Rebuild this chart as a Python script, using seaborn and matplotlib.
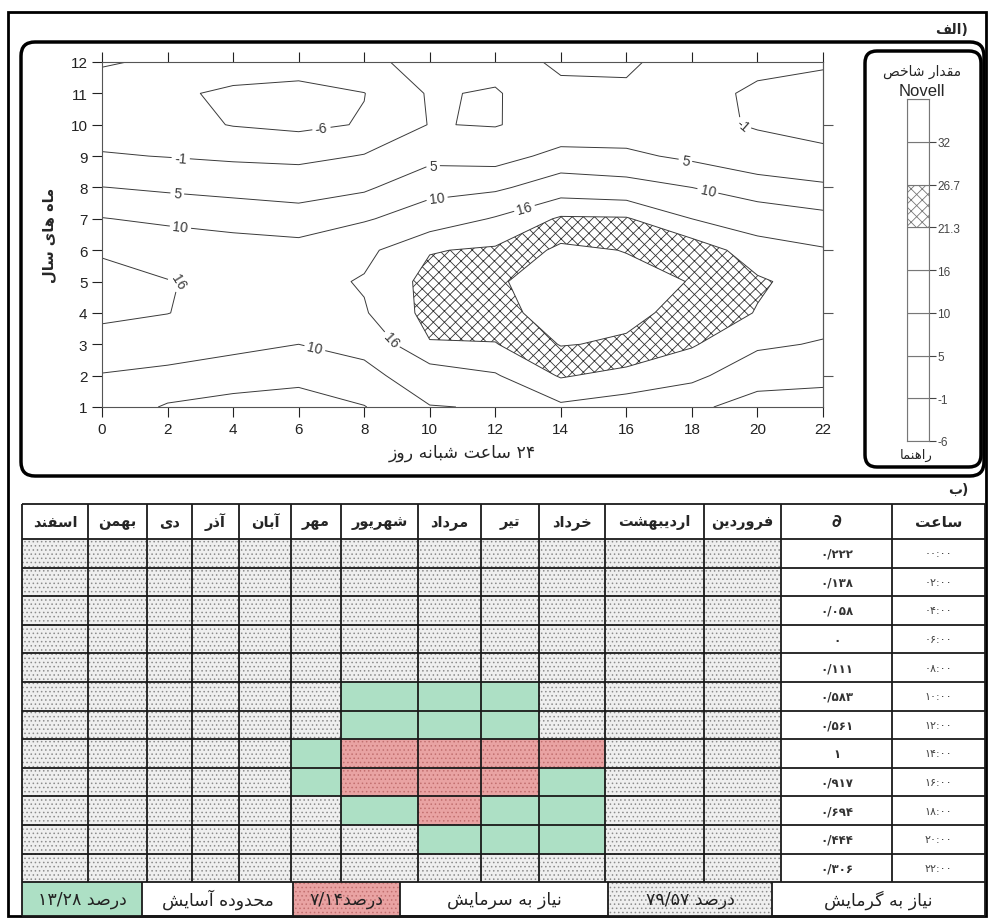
import re
import numpy as np
import matplotlib
matplotlib.use('Agg')
import matplotlib.pyplot as plt
from matplotlib.patches import FancyBboxPatch, Rectangle
import seaborn as sns

# ---------------- data ----------------
hours = [0, 2, 4, 6, 8, 10, 12, 14, 16, 18, 20, 22]
months = [1, 2, 3, 4, 5, 6, 7, 8, 9, 10, 11, 12]

# Novell index, one list per hour (months 1..12)
novell_h00 = [8.0, 9.6, 14.5, 16.8, 17.5, 15.5, 10.2, 5.1, -0.5, -4.0, -4.5, -6.3]
novell_h02 = [4.5, 8.5, 13.0, 16.1, 16.2, 13.5, 9.0, 4.2, -1.2, -4.5, -5.5, -5.5]
novell_h04 = [3.5, 7.0, 11.5, 14.0, 15.0, 12.5, 8.0, 3.5, -2.0, -6.2, -6.5, -4.5]
novell_h06 = [2.5, 6.5, 10.0, 13.0, 14.0, 12.0, 7.0, 3.0, -2.5, -7.0, -7.0, -4.5]
novell_h08 = [4.8, 8.5, 11.5, 15.5, 16.5, 14.5, 9.5, 4.2, -0.7, -5.7, -6.1, -2.0]
novell_h10 = [9.8, 13.0, 21.0, 23.0, 23.0, 21.0, 12.5, 8.5, 3.5, -0.8, -0.5, 0.5]
novell_h12 = [10.3, 15.5, 21.0, 25.0, 26.0, 22.0, 16.5, 9.0, 3.0, -1.3, -1.5, 1.0]
novell_h14 = [15.0, 21.8, 27.0, 29.0, 29.5, 28.0, 22.0, 13.0, 6.5, 1.5, 3.0, 6.5]
novell_h16 = [13.5, 19.5, 26.0, 28.0, 28.5, 26.5, 21.8, 12.0, 6.0, 2.0, 4.0, 6.0]
novell_h18 = [11.0, 17.5, 21.8, 25.0, 26.5, 24.5, 16.0, 10.0, 4.0, 0.5, 1.0, 2.0]
novell_h20 = [8.0, 12.0, 17.0, 21.0, 22.0, 18.5, 13.0, 7.5, 1.5, -1.5, -2.0, 0.5]
novell_h22 = [7.5, 11.5, 15.5, 18.5, 19.0, 16.5, 11.5, 6.0, 0.0, -2.5, -2.5, -0.5]

levels = [-6, -1, 5, 10, 16, 21.3, 26.7, 32]
label_levels = [-6, -1, 5, 10, 16]

month_names = ['فروردین', 'اردیبهشت', 'خرداد', 'تیر', 'مرداد', 'شهریور',
               'مهر', 'آبان', 'آذر', 'دی', 'بهمن', 'اسفند']
delta = [0.222, 0.138, 0.058, 0, 0.111, 0.583, 0.561, 1, 0.917, 0.694, 0.444, 0.306]

# 0 = heating need, 1 = comfort, 2 = cooling need (months فروردین..اسفند)
status_h00 = [0, 0, 0, 0, 0, 0, 0, 0, 0, 0, 0, 0]
status_h02 = [0, 0, 0, 0, 0, 0, 0, 0, 0, 0, 0, 0]
status_h04 = [0, 0, 0, 0, 0, 0, 0, 0, 0, 0, 0, 0]
status_h06 = [0, 0, 0, 0, 0, 0, 0, 0, 0, 0, 0, 0]
status_h08 = [0, 0, 0, 0, 0, 0, 0, 0, 0, 0, 0, 0]
status_h10 = [0, 0, 0, 1, 1, 1, 0, 0, 0, 0, 0, 0]
status_h12 = [0, 0, 0, 1, 1, 1, 0, 0, 0, 0, 0, 0]
status_h14 = [0, 0, 2, 2, 2, 2, 1, 0, 0, 0, 0, 0]
status_h16 = [0, 0, 1, 2, 2, 2, 1, 0, 0, 0, 0, 0]
status_h18 = [0, 0, 1, 1, 2, 1, 0, 0, 0, 0, 0, 0]
status_h20 = [0, 0, 1, 1, 1, 0, 0, 0, 0, 0, 0, 0]
status_h22 = [0, 0, 0, 0, 0, 0, 0, 0, 0, 0, 0, 0]

pct_heat = 79.57
pct_cool = 7.14
pct_comfort = 13.28

# ---------------- persian text helpers ----------------
FORMS = {c: ''.join(chr(s + k) for k in range(n)) for c, s, n in [
    ('ا', 0xFE8D, 2), ('آ', 0xFE81, 2), ('ب', 0xFE8F, 4), ('ت', 0xFE95, 4),
    ('ح', 0xFEA1, 4), ('خ', 0xFEA5, 4), ('د', 0xFEA9, 2), ('ذ', 0xFEAB, 2),
    ('ر', 0xFEAD, 2), ('ز', 0xFEAF, 2), ('س', 0xFEB1, 4), ('ش', 0xFEB5, 4),
    ('ص', 0xFEB9, 4), ('ع', 0xFEC9, 4), ('ف', 0xFED1, 4), ('ق', 0xFED5, 4),
    ('ل', 0xFEDD, 4), ('م', 0xFEE1, 4), ('ن', 0xFEE5, 4), ('ه', 0xFEE9, 4),
    ('و', 0xFEED, 2), ('ی', 0xFBFC, 4), ('ي', 0xFEF1, 4), ('ى', 0xFEEF, 2),
    ('گ', 0xFB92, 4), ('پ', 0xFB56, 4), ('ک', 0xFB8E, 4), ('ك', 0xFED9, 4),
]}


def fa(text):
    out = []
    for i, c in enumerate(text):
        f = FORMS.get(c)
        if f is None:
            out.append(c)
            continue
        prev = text[i - 1] if i else ''
        nxt = text[i + 1] if i + 1 < len(text) else ''
        a = len(FORMS.get(prev, '')) == 4
        b = len(f) == 4 and nxt in FORMS
        out.append(f[3] if a and b else f[1] if a else f[2] if b else f[0])
    tokens = re.findall(r'[0-9۰-۹/:.]+|.', ''.join(out))
    return ''.join(reversed(tokens))


def fdig(s):
    return s.translate(str.maketrans('0123456789.', '۰۱۲۳۴۵۶۷۸۹/'))


PF = 'DejaVu Sans'

# ---------------- figure ----------------
sns.set_style('white')
plt.rcParams['font.family'] = ['Liberation Sans', 'DejaVu Sans']
plt.rcParams['hatch.linewidth'] = 0.6
plt.rcParams['hatch.color'] = '#333333'
plt.rcParams['contour.negative_linestyle'] = 'solid'

fig = plt.figure(figsize=(9.88, 9.2), dpi=100)

# background axes in pixel units for frames and the table
bg = fig.add_axes([0, 0, 1, 1])
bg.set_xlim(0, 988)
bg.set_ylim(920, 0)
bg.axis('off')

bg.add_patch(Rectangle((8, 13), 978, 904, fill=False, lw=2, ec='black'))
bg.add_patch(FancyBboxPatch((21, 43), 963, 434, boxstyle='round,pad=0,rounding_size=14',
                            fill=False, lw=2.5, ec='black'))
bg.add_patch(FancyBboxPatch((865, 52), 116, 416, boxstyle='round,pad=0,rounding_size=12',
                            fill=False, lw=2.5, ec='black'))
bg.text(968, 30, fa('الف') + ')', family=PF, fontsize=10, fontweight='bold',
        ha='right', va='center')
bg.text(968, 490, fa('ب') + ')', family=PF, fontsize=10, fontweight='bold',
        ha='right', va='center')

# ---------------- contour map ----------------
Z = np.array([novell_h00, novell_h02, novell_h04, novell_h06, novell_h08, novell_h10,
              novell_h12, novell_h14, novell_h16, novell_h18, novell_h20, novell_h22]).T

ax = fig.add_axes([102 / 988, 1 - 408 / 920, 721 / 988, 345 / 920])
band = ax.contourf(hours, months, Z, levels=[21.3, 26.7], colors=['white'], hatches=['xxx'])
band.set_edgecolor('#333333')
band.set_linewidth(0)
cs = ax.contour(hours, months, Z, levels=levels, colors='#3a3a3a', linewidths=0.7,
                linestyles='solid')
label_pos = [(6.7, 9.85), (2.4, 8.9), (19.5, 9.85),
             (2.3, 7.85), (10.1, 8.65), (17.8, 8.85),
             (2.4, 6.8), (10.2, 7.85), (18.5, 7.95), (6.5, 2.9),
             (2.4, 5.2), (8.8, 3.1), (12.9, 7.3)]
ax.clabel(cs, levels=label_levels, manual=label_pos, inline=True, fmt='%g',
          fontsize=10, inline_spacing=3)

ax.set_xlim(0, 22)
ax.set_ylim(1, 12)
ax.set_xticks(hours)
ax.set_yticks(months)
ax.tick_params(axis='both', labelsize=11, direction='out', length=7, width=0.8,
               colors='#222222', bottom=True, left=True, top=True, labeltop=False)
for sp in ax.spines.values():
    sp.set_linewidth(0.8)
    sp.set_color('#555555')
sec = ax.secondary_yaxis('right')
sec.set_yticks([2, 4, 6, 8, 10])
sec.set_yticklabels([])
sec.tick_params(direction='out', length=7, width=0.8, colors='#555555')
sec.spines['right'].set_color('#555555')
sec.spines['right'].set_linewidth(0.8)

ax.set_xlabel(fa('۲۴ ساعت شبانه روز'), family=PF, fontsize=12.5, labelpad=5)
ax.set_ylabel(fa('ماه های سال'), family=PF, fontsize=10.5, fontweight='bold', labelpad=10)

# ---------------- legend strip ----------------
lg = fig.add_axes([907 / 988, 1 - 442 / 920, 22 / 988, 342 / 920])
seg = np.arange(len(levels))
lg.bar(0.5, 1, bottom=seg, width=1, color='white', edgecolor='#777777', linewidth=0.8,
       hatch=['xxx' if lv == 21.3 else '' for lv in levels])
lg.set_xlim(0, 1)
lg.set_ylim(0, len(levels))
lg.set_xticks([])
lg.set_yticks(seg)
lg.set_yticklabels([f'{lv:g}' for lv in levels])
lg.yaxis.tick_right()
lg.tick_params(axis='y', labelsize=8.5, length=5, width=0.8, colors='#444444', pad=1)
for sp in lg.spines.values():
    sp.set_color('#777777')
    sp.set_linewidth(0.8)
bg.text(922, 72, fa('مقدار شاخص'), family=PF, fontsize=10, ha='center', va='center')
bg.text(922, 91, 'Novell', fontsize=12, ha='center', va='center')
bg.text(916, 455, fa('راهنما'), family=PF, fontsize=9.5, ha='center', va='center')

# ---------------- table ----------------
col_edges = [22, 88, 147, 192, 239, 291, 341, 418, 481, 539, 605, 704, 781, 892, 985]
foot_edges = [22, 142, 293, 400, 608, 772, 985]
head_top, head_bot, row_h, foot_bot = 505, 540, 28.6, 917
status = [status_h00, status_h02, status_h04, status_h06, status_h08, status_h10,
          status_h12, status_h14, status_h16, status_h18, status_h20, status_h22]

styles = {0: dict(color='#efefef', edgecolor='#8c8c8c', hatch='....'),
          1: dict(color='#ade0c5', edgecolor='#ade0c5', hatch=''),
          2: dict(color='#e9a3a3', edgecolor='#c27070', hatch='....')}

for code, st in styles.items():
    lefts, widths, tops = [], [], []
    for r, row in enumerate(status):
        for m, s in enumerate(row):
            if s == code:
                ci = 11 - m
                lefts.append(col_edges[ci])
                widths.append(col_edges[ci + 1] - col_edges[ci])
                tops.append(head_bot + r * row_h)
    bg.bar(lefts, row_h, width=widths, bottom=tops, align='edge', linewidth=0, **st)

foot_top = head_bot + 12 * row_h
foot_fill = [styles[1], None, styles[2], None, styles[0], None]
for i, st in enumerate(foot_fill):
    if st is not None:
        bg.bar(foot_edges[i], foot_bot - foot_top, width=foot_edges[i + 1] - foot_edges[i],
               bottom=foot_top, align='edge', linewidth=0, **st)

row_lines = [head_top, head_bot] + [head_bot + (k + 1) * row_h for k in range(12)] + [foot_bot]
bg.hlines(row_lines, col_edges[0], col_edges[-1], colors='#1a1a1a', linewidth=1.3)
bg.vlines(col_edges, head_top, foot_top, colors='#1a1a1a', linewidth=1.3)
bg.vlines(foot_edges, foot_top, foot_bot, colors='#1a1a1a', linewidth=1.3)


def cx(i):
    return (col_edges[i] + col_edges[i + 1]) / 2


hy = (head_top + head_bot) / 2
for m, name in enumerate(month_names):
    bg.text(cx(11 - m), hy, fa(name), family=PF, fontsize=10.5, fontweight='bold',
            ha='center', va='center')
bg.text(cx(12), hy, '∂', family=PF, fontsize=13, fontweight='bold', style='italic',
        ha='center', va='center')
bg.text(cx(13), hy, fa('ساعت'), family=PF, fontsize=11, fontweight='bold',
        ha='center', va='center')

for r, (h, d) in enumerate(zip(hours, delta)):
    y = head_bot + (r + 0.5) * row_h
    bg.text(cx(12), y, fdig(f'{d:g}'), family=PF, fontsize=8.5, fontweight='bold',
            color='#333333', ha='center', va='center')
    bg.text(cx(13), y, fdig(f'{h:02d}:00'), family=PF, fontsize=8, color='#444444',
            ha='center', va='center')

foot_texts = [fa('درصد ' + fdig(f'{pct_comfort:g}')), fa('محدوده آسایش'),
              fa('درصد' + fdig(f'{pct_cool:g}')), fa('نیاز به سرمایش'),
              fa('درصد ' + fdig(f'{pct_heat:g}')), fa('نیاز به گرمایش')]
fy = (foot_top + foot_bot) / 2
for i, t in enumerate(foot_texts):
    bg.text((foot_edges[i] + foot_edges[i + 1]) / 2, fy, t, family=PF, fontsize=12.5,
            ha='center', va='center', color='#222222')

fig.savefig('out.png', dpi=100)
